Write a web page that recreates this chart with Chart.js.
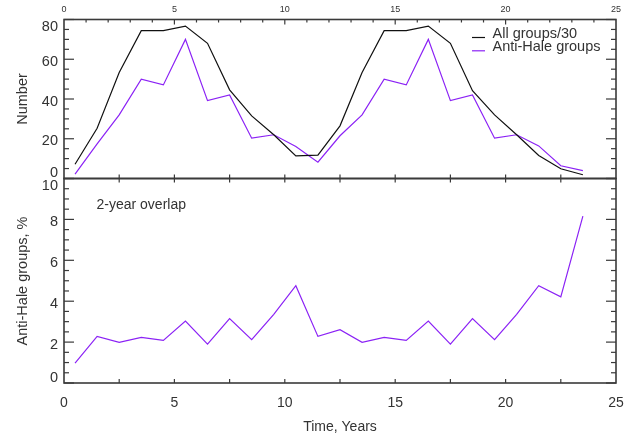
<!DOCTYPE html>
<html>
<head>
<meta charset="utf-8">
<script src="https://cdn.jsdelivr.net/npm/chart.js@4.4.0/dist/chart.umd.min.js"></script>
<style>
  body { margin: 0; background: #fff; }
  #wrap { position: relative; width: 639px; height: 438px; }
  #wrap canvas { position: absolute; left: 0; top: 0; }
</style>
</head>
<body>
<div id="wrap">
  <canvas id="topChart" width="639" height="438"></canvas>
  <canvas id="bottomChart" width="639" height="438"></canvas>
</div>
<script>
// -------------------- Data --------------------
const years = [0.5, 1.5, 2.5, 3.5, 4.5, 5.5, 6.5, 7.5, 8.5, 9.5, 10.5, 11.5,
               12.5, 13.5, 14.5, 15.5, 16.5, 17.5, 18.5, 19.5, 20.5, 21.5, 22.5, 23.5];
const allGroups = [7.2, 25.3, 53.3, 74.4, 74.4, 76.7, 68, 44.6, 31.5, 22, 11.4, 11.8,
                   26.5, 53.3, 74.4, 74.4, 76.7, 68, 44.2, 32, 22, 11.6, 4.9, 1.9];
const antiHale = [2.2, 17.4, 32, 50, 47.1, 70, 39.2, 42, 20.3, 22, 16.1, 8.2,
                  21.5, 32, 50, 47.1, 70, 39.2, 42, 20.3, 22, 16.4, 6.4, 4];
const overlapPct = [0.97, 2.28, 1.99, 2.23, 2.08, 3.03, 1.9, 3.15, 2.12, 3.36, 4.76, 2.28,
                    2.61, 1.99, 2.23, 2.08, 3.03, 1.9, 3.15, 2.12, 3.36, 4.76, 4.21, 8.16];

const xTickLabels = [0, 5, 10, 15, 20, 25];
const numberTicks = [0, 20, 40, 60, 80];
const pctTicks = [0, 2, 4, 6, 8, 10];

const FONT = "'Liberation Sans', Arial, Helvetica, sans-serif";
const AXIS = '#3a3a3a';
const TEXT = '#333';
const PURPLE = '#8b22f5';

// -------------------- Helpers --------------------
function seg(ctx, x1, y1, x2, y2) {
  ctx.beginPath();
  ctx.moveTo(x1, y1);
  ctx.lineTo(x2, y2);
  ctx.stroke();
}

// draws box, inward ticks and labels for one panel
function framePlugin(opts) {
  return {
    id: 'frame',
    afterDatasetsDraw(chart) {
      const { ctx, chartArea: a, scales: { x, y } } = chart;
      ctx.save();
      ctx.strokeStyle = AXIS;
      ctx.lineWidth = 1.2;

      // y ticks left + right
      const nY = Math.round((y.max - y.min) / opts.yMinor);
      for (let i = 0; i <= nY; i++) {
        const v = y.min + i * opts.yMinor;
        const py = y.getPixelForValue(v);
        const len = (i % opts.yPerMajor === 0) ? 10 : 5;
        seg(ctx, a.left, py, a.left + len, py);
        seg(ctx, a.right, py, a.right - len, py);
      }

      // x ticks bottom (every 2.5)
      for (let i = 1; i < 10; i++) {
        const px = x.getPixelForValue(i * 2.5);
        seg(ctx, px, a.bottom, px, a.bottom - 4);
        if (opts.midTop) seg(ctx, px, a.top, px, a.top + 4);
      }
      // x ticks top of figure (every 1)
      if (opts.topAxis) {
        for (let i = 1; i < 25; i++) {
          const px = x.getPixelForValue(i);
          seg(ctx, px, a.top, px, a.top + (i % 5 === 0 ? 5 : 3));
        }
      }

      // box
      ctx.lineWidth = 1.6;
      ctx.strokeRect(a.left, a.top, a.right - a.left, a.bottom - a.top);

      // y labels
      ctx.fillStyle = TEXT;
      ctx.font = '14.5px ' + FONT;
      ctx.textAlign = 'right';
      ctx.textBaseline = 'middle';
      opts.yLabels.forEach(v => {
        let py = y.getPixelForValue(v) + 2.5;
        if (v === y.max) py += 4.5;
        if (v === y.min) py -= 8;
        ctx.fillText(String(v), 58, py);
      });

      // y title
      ctx.save();
      ctx.translate(22.5, opts.yTitleY);
      ctx.rotate(-Math.PI / 2);
      ctx.textAlign = 'center';
      ctx.font = '14.5px ' + FONT;
      ctx.fillText(opts.yTitle, 0, 0);
      ctx.restore();

      if (opts.topAxis) {
        ctx.font = '9px ' + FONT;
        ctx.textAlign = 'center';
        xTickLabels.forEach(v => ctx.fillText(String(v), x.getPixelForValue(v), 10));
      }
      if (opts.bottomAxis) {
        ctx.font = '14px ' + FONT;
        ctx.textAlign = 'center';
        xTickLabels.forEach(v => ctx.fillText(String(v), x.getPixelForValue(v), 403));
        ctx.fillText('Time, Years', 340, 427);
      }
      if (opts.extra) opts.extra(ctx, chart);
      ctx.restore();
    }
  };
}

function baseOptions(padding, yMax) {
  return {
    responsive: false,
    animation: false,
    devicePixelRatio: 1,
    layout: { padding },
    plugins: { legend: { display: false }, tooltip: { enabled: false } },
    scales: {
      x: { type: 'linear', min: 0, max: 25, display: false },
      y: { type: 'linear', min: 0, max: yMax, display: false }
    }
  };
}

function lineSet(label, data, color) {
  return {
    label,
    data: years.map((t, i) => ({ x: t, y: data[i] })),
    borderColor: color,
    borderWidth: 1.2,
    pointRadius: 0,
    tension: 0,
    fill: false
  };
}

// -------------------- Top panel --------------------
const topSets = [lineSet('All groups/30', allGroups, '#111'), lineSet('Anti-Hale groups', antiHale, PURPLE)];

new Chart(document.getElementById('topChart'), {
  type: 'line',
  data: { datasets: topSets },
  options: baseOptions({ left: 64, right: 23, top: 19.5, bottom: 259.5 }, 80),
  plugins: [framePlugin({
    yMinor: 5, yPerMajor: 4, yLabels: numberTicks,
    yTitle: 'Number', yTitleY: 99,
    topAxis: true,
    extra(ctx) {
      ctx.font = '14.5px ' + FONT;
      ctx.textAlign = 'left';
      ctx.textBaseline = 'middle';
      topSets.forEach((ds, i) => {
        const ly = 33.5 + i * 13.3;
        ctx.strokeStyle = ds.borderColor;
        ctx.lineWidth = 1.2;
        seg(ctx, 472, ly + 4, 485, ly + 4);
        ctx.fillStyle = TEXT;
        ctx.fillText(ds.label, 492.5, ly);
      });
    }
  })]
});

// -------------------- Bottom panel --------------------
new Chart(document.getElementById('bottomChart'), {
  type: 'line',
  data: { datasets: [lineSet('Anti-Hale groups, %', overlapPct, PURPLE)] },
  options: baseOptions({ left: 64, right: 23, top: 178.5, bottom: 55 }, 10),
  plugins: [framePlugin({
    yMinor: 0.5, yPerMajor: 4, yLabels: pctTicks,
    yTitle: 'Anti-Hale groups, %', yTitleY: 281,
    midTop: true, bottomAxis: true,
    extra(ctx) {
      ctx.font = '14px ' + FONT;
      ctx.textAlign = 'left';
      ctx.textBaseline = 'middle';
      ctx.fillStyle = TEXT;
      ctx.fillText('2-year overlap', 96.5, 205.5);
    }
  })]
});
</script>
</body>
</html>
